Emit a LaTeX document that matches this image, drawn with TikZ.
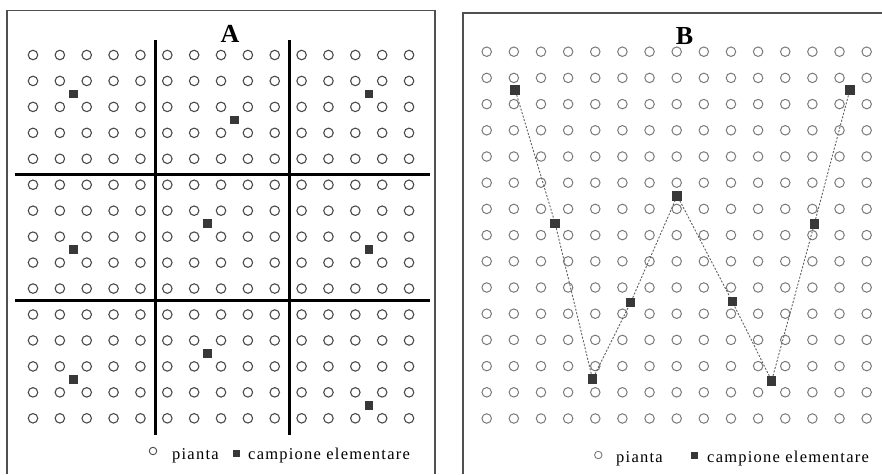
\documentclass[tikz,border=0pt]{standalone}
\usepackage{fontspec}
\setmainfont{Liberation Serif}
\newfontfamily\legendfont[LetterSpace=7.5]{Liberation Serif}
\usepackage{tikz}
\definecolor{PlantA}{HTML}{4a4a4a}
\definecolor{PlantB}{HTML}{7a7a7a}
\definecolor{SampleDark}{HTML}{383838}
\definecolor{FrameGray}{HTML}{505050}
\definecolor{WalkGray}{HTML}{5e5e5e}

\begin{document}
\begin{tikzpicture}[x=1pt,y=-1pt,
    plant/.style={circle,draw=PlantA,line width=1.1pt,inner sep=0pt,minimum size=9.5pt},
    sample/.style={rectangle,fill=SampleDark,inner sep=0pt,minimum size=8.5pt},
    divider/.style={line width=3pt,black},
    frame/.style={draw=FrameGray,line width=1.4pt},
    walk/.style={draw=WalkGray,dash pattern=on 2pt off 1.6pt,line width=0.9pt},
    legend/.style={font=\legendfont\fontsize{16.5}{18}\selectfont,inner sep=0pt,anchor=base west},
    title/.style={font=\bfseries\fontsize{26}{28}\selectfont,inner sep=0pt}]
  \useasboundingbox (0,0) rectangle (882,474);

  % panel A: stratified sampling
  \draw[frame] (7,474) -- (7,10.5) -- (435,10.5) -- (435,474);
  \node[title] (ta) at (230,34) {A};
  \begin{scope}[shift={(33pt,-55pt)},x=26.86pt,y=-25.95pt]
    \foreach \c in {0,...,14}
      \foreach \r in {0,...,14}
        \node[plant] (pa-\c-\r) at (\c,\r) {};
    \foreach \c/\r [count=\k] in {1.5/1.5,7.5/2.5,12.5/1.5,1.5/7.5,6.5/6.5,12.5/7.5,1.5/12.5,6.5/11.5,12.5/13.5}
      \node[sample] (sa\k) at (\c,\r) {};
  \end{scope}
  \draw[divider] (155,40) -- (155,435);
  \draw[divider] (289,40) -- (289,435);
  \draw[divider] (15,174) -- (430,174);
  \draw[divider] (15,300) -- (430,300);
  \node[plant,minimum size=7.5pt,line width=0.9pt] (la-plant) at (153,451) {};
  \node[legend] (la-plant-txt) at (172,459.5) {pianta};
  \node[sample,minimum size=7pt] (la-sample) at (236,453) {};
  \node[legend] (la-sample-txt) at (248,459.5) {campione elementare};

  % panel B: W path
  \draw[frame] (463,474) -- (463,13) -- (882,13);
  \node[title] (tb) at (684.5,36) {B};
  \begin{scope}[shift={(486.7pt,-51.7pt)},x=27.14pt,y=-26.2pt,plant/.append style={draw=PlantB,line width=1pt}]
    \foreach \c in {0,...,14}
      \foreach \r in {0,...,14}
        \node[plant] (pb-\c-\r) at (\c,\r) {};
    \foreach \c/\r [count=\k] in {1.05/1.46,2.52/6.55,3.9/12.5,5.3/9.58,7.02/5.5,9.05/9.54,10.5/12.56,12.07/6.58,13.38/1.46}
      \node[sample,minimum size=9.5pt] (sb\k) at (\c,\r) {};
  \end{scope}
  \draw[walk] (sb1) -- (sb2) -- (sb3) -- (sb4) -- (sb5) -- (sb6) -- (sb7) -- (sb8) -- (sb9);
  \node[plant,draw=PlantB,minimum size=7.5pt,line width=0.9pt] (lb-plant) at (598.3,455) {};
  \node[legend] (lb-plant-txt) at (616,462) {pianta};
  \node[sample,minimum size=7pt] (lb-sample) at (694.3,455) {};
  \node[legend] (lb-sample-txt) at (707,462) {campione elementare};
\end{tikzpicture}
\end{document}
